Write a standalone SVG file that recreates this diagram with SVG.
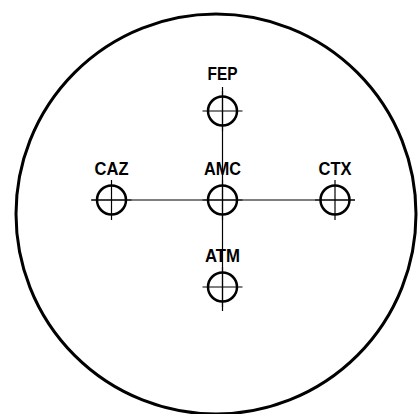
<svg xmlns="http://www.w3.org/2000/svg" width="419" height="414" viewBox="0 0 419 414">
  <style>
    .frame { fill: none; stroke: #000; stroke-width: 3; }
    .wire { fill: none; stroke: #000; stroke-width: 1.2; }
    .ring { fill: none; stroke: #000; stroke-width: 2.5; }
    .tick { stroke: #000; stroke-width: 1.2; }
    .lbl { font-family: "Liberation Sans", Arial, sans-serif; font-weight: bold; font-size: 18px; text-anchor: middle; fill: #000; }
  </style>
  <defs>
    <!-- crosshair target symbol, centred on the origin -->
    <g id="target">
      <line class="tick" x1="-20" y1="0" x2="20" y2="0"/>
      <line class="tick" x1="0" y1="-20" x2="0" y2="20"/>
      <circle class="ring" cx="0" cy="0" r="14.5"/>
    </g>
  </defs>
  <rect width="419" height="414" fill="#fff"/>
  <circle class="frame" cx="216" cy="214" r="200"/>
  <g id="connectors">
    <line class="wire" x1="91" y1="200" x2="355" y2="200"/>
    <line class="wire" x1="222.5" y1="87" x2="222.5" y2="311"/>
  </g>
  <!-- labels are condensed to a narrow bold face -->
  <g id="FEP">
    <use href="#target" x="222.5" y="111"/>
    <text class="lbl" x="222.5" y="80" textLength="30" lengthAdjust="spacingAndGlyphs">FEP</text>
  </g>
  <g id="CAZ">
    <use href="#target" x="111.5" y="200"/>
    <text class="lbl" x="111.5" y="175" textLength="34" lengthAdjust="spacingAndGlyphs">CAZ</text>
  </g>
  <g id="AMC">
    <use href="#target" x="222.5" y="200"/>
    <text class="lbl" x="222.5" y="175" textLength="37" lengthAdjust="spacingAndGlyphs">AMC</text>
  </g>
  <g id="CTX">
    <use href="#target" x="335" y="200"/>
    <text class="lbl" x="335" y="175" textLength="33" lengthAdjust="spacingAndGlyphs">CTX</text>
  </g>
  <g id="ATM">
    <use href="#target" x="222.5" y="287"/>
    <text class="lbl" x="222.5" y="262" textLength="35" lengthAdjust="spacingAndGlyphs">ATM</text>
  </g>
</svg>
